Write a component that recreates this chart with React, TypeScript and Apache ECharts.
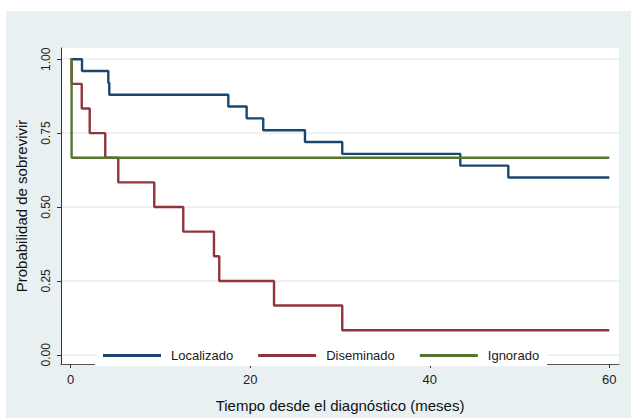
import React, { useEffect, useRef } from "react";
import * as echarts from "echarts";

const seriesNames = ["Localizado", "Diseminado", "Ignorado"];
const seriesColors = ["#1a476f", "#90353b", "#55752f"];

const locT = [0, 1.26, 4.19, 4.3, 17.56, 19.6, 21.45, 26.1, 30.25, 43.4, 48.75, 60];
const locS = [1, 0.96, 0.92, 0.88, 0.84, 0.8, 0.76, 0.72, 0.68, 0.64, 0.6, 0.6];

const disT = [0, 0.1, 1.23, 2.12, 3.85, 5.3, 9.31, 12.54, 15.96, 16.55, 22.65, 30.25, 60];
const disS = [1, 0.9167, 0.8333, 0.75, 0.6667, 0.5833, 0.5, 0.4167, 0.3333, 0.25, 0.1667, 0.0833, 0.0833];

const ignT = [0, 0.1, 60];
const ignS = [1, 0.6667, 0.6667];

const xTicks = [0, 20, 40, 60];
const yTicks = [0, 0.25, 0.5, 0.75, 1];

const FONT = "'Liberation Sans', Arial, sans-serif";

export default function App() {
  const ref = useRef<HTMLDivElement>(null);
  useEffect(() => {
    if (!ref.current) return;
    const chart = echarts.init(ref.current, undefined, { renderer: "svg" });
    const pairs = (t: number[], s: number[]) => t.map((v, i) => [v, s[i]]);
    const all = [pairs(locT, locS), pairs(disT, disS), pairs(ignT, ignS)];
    chart.setOption({
      animation: false,
      backgroundColor: "#ffffff",
      graphic: [
        {
          type: "rect",
          shape: { x: 6, y: 11, width: 625, height: 407 },
          style: { fill: "#e9f0f2" },
          z: -10,
          silent: true,
        },
      ],
      grid: {
        left: 61,
        right: 12,
        top: 48,
        bottom: 53,
        show: true,
        backgroundColor: "#ffffff",
        borderWidth: 0,
        z: 0,
      },
      legend: {
        data: seriesNames,
        left: 95,
        top: 345,
        icon: "rect",
        itemWidth: 58,
        itemHeight: 3,
        itemGap: 25,
        padding: [4, 8, 4, 8],
        backgroundColor: "#ffffff",
        textStyle: { fontSize: 13, color: "#1a1a1a", fontFamily: FONT, padding: [0, 0, 0, 5] },
      },
      xAxis: {
        type: "value",
        min: -1.08,
        max: 61.08,
        name: "Tiempo desde el diagnóstico (meses)",
        nameLocation: "middle",
        nameGap: 34,
        nameTextStyle: { fontSize: 15, color: "#111", fontFamily: FONT },
        axisLine: { show: true, onZero: false, lineStyle: { color: "#555", width: 1 } },
        axisTick: { show: true, length: 4, customValues: xTicks, lineStyle: { color: "#333" } },
        axisLabel: { customValues: xTicks, fontSize: 13, color: "#222", fontFamily: FONT, margin: 9 },
        splitLine: { show: false },
      },
      yAxis: {
        type: "value",
        min: -0.031,
        max: 1.038,
        name: "Probabilidad de sobrevivir",
        nameLocation: "middle",
        nameGap: 32,
        nameTextStyle: { fontSize: 15, color: "#111", fontFamily: FONT },
        axisLine: { show: true, onZero: false, lineStyle: { color: "#333", width: 1 } },
        axisTick: { show: true, length: 4, customValues: yTicks, lineStyle: { color: "#333" } },
        axisLabel: {
          customValues: yTicks,
          rotate: 90,
          fontSize: 12,
          color: "#222",
          fontFamily: FONT,
          margin: 9,
          formatter: (v: number) => v.toFixed(2),
        },
        splitLine: { show: true, customValues: yTicks, lineStyle: { color: "#e8eef1", width: 1.5 } },
      },
      series: seriesNames.map((name, i) => ({
        name,
        type: "line",
        step: "end",
        data: all[i],
        showSymbol: false,
        symbol: "none",
        lineStyle: { color: seriesColors[i], width: 2.4 },
        itemStyle: { color: seriesColors[i] },
        z: 2 + i,
      })),
    });
    return () => chart.dispose();
  }, []);
  return (
    <div
      ref={ref}
      style={{ position: "fixed", left: 0, top: 0, width: 631, height: 418 }}
    />
  );
}
